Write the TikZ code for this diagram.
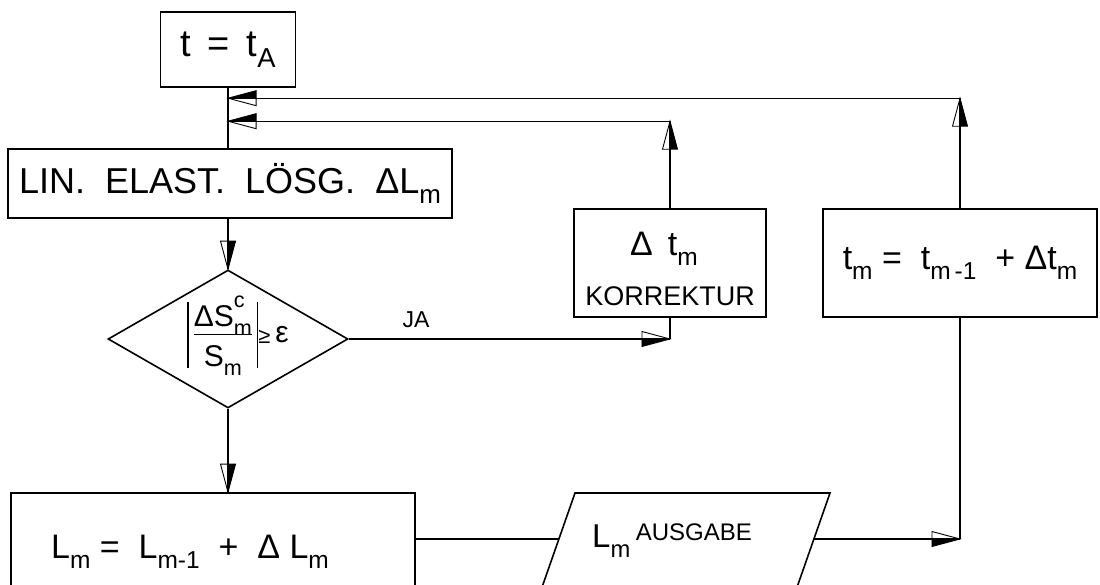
\documentclass[tikz,border=0pt]{standalone}
\usepackage{fontspec}
\setmainfont{Liberation Sans}
\usepackage{graphicx}
\usetikzlibrary{shapes.geometric,decorations.markings}
\newcommand\fs[1]{\fontsize{#1}{#1}\selectfont}
\newcommand\Sb[1]{\raisebox{-0.3em}{\scalebox{0.72}{#1}}}
\newcommand\SupSub[2]{\rlap{\raisebox{0.62em}{\scalebox{0.72}{#1}}}\raisebox{-0.3em}{\scalebox{0.72}{#2}}}
\tikzset{
  box/.style={draw, line width=1.6pt, inner sep=0pt},
  conn/.style={line width=1.1pt},
  ahR/.style={postaction={decorate,decoration={markings,mark=at position 0.9999 with {\fill (0pt,0pt)--(-28pt,0pt)--(-28pt,-7.5pt)--cycle; \draw[line width=0.9pt,line join=miter] (0pt,0pt)--(-28pt,7.5pt)--(-28pt,-7.5pt)--cycle;}}}},
  ahL/.style={postaction={decorate,decoration={markings,mark=at position 0.9999 with {\fill (0pt,0pt)--(-28pt,0pt)--(-28pt,7.5pt)--cycle; \draw[line width=0.9pt,line join=miter] (0pt,0pt)--(-28pt,7.5pt)--(-28pt,-7.5pt)--cycle;}}}}
}
\begin{document}
\begin{tikzpicture}[x=1pt,y=-1pt]
\useasboundingbox (0,0) rectangle (1100,585);
\clip (0,0) rectangle (1100,585);
\fill[white] (0,0) rectangle (1100,585);
% nodes
\node[box, minimum width=135pt, minimum height=75pt] (tA) at (228,49.5) {\fs{38}t \,=\, t\Sb{A}};
\node[box, minimum width=444pt, minimum height=69pt] (LIN) at (230,183.5) {\fs{36}LIN.\ \ ELAST.\ \ LÖSG.\ \ ΔL\Sb{m}};
\node[diamond, draw, line width=1.6pt, minimum width=240pt, minimum height=138pt, inner sep=0pt] (dia) at (228,339) {};
\node (fr) at (238,336) {\fs{30}\rule[-0.85em]{1.5pt}{2.2em}\,{\setlength\arrayrulewidth{1.4pt}\begin{tabular}{@{}c@{}}ΔS\SupSub{c}{m}\\[-0.05em]\hline\rule{0pt}{1.05em}S\Sb{m}\end{tabular}}\,\rule[-0.85em]{1.5pt}{2.2em}\raisebox{-0.05em}{\fs{22}≥}\,ε};
\node[box, minimum width=192pt, minimum height=108pt] (dt) at (670,263) {};
\node (dtA) at (664,249) {\fs{34}Δ \,t\Sb{m}};
\node (dtB) at (670,296) {\fs{27}KORREKTUR};
\node[box, minimum width=274pt, minimum height=108pt] (tm) at (960,263) {\fs{34}t\Sb{m} = \ t\Sb{m\,-1} \ + Δt\Sb{m}};
\node[box, minimum width=404pt, minimum height=107pt] (Lm) at (213,546.5) {};
\node (LmT) at (190,552) {\fs{34}L\Sb{m} = \ L\Sb{m-1} \ + \ Δ L\Sb{m}};
\draw[line width=1.6pt] (575,493) -- (830,493) -- (788,613) -- (533,613) -- cycle;
\coordinate (pL) at (558.9,539);
\coordinate (pR) at (813.9,539);
\node (out) at (672,541) {\fs{33}L\Sb{m}\,\raisebox{7pt}{\fs{24}AUSGABE}};
\node (ja) at (416,320) {\fs{23}JA};
% helper coordinates
\path (dt.north) ++(0,-87) coordinate (c1);
\path (tm.north) ++(0,-110) coordinate (c2);
\coordinate (j1) at (dt.south |- dia.east);
\coordinate (c3) at (tm.south |- pR);
% connectors
\draw[conn] (tA.south) -- (tA.south |- LIN.north);
\draw[conn, ahR] (dt.north) -- (c1);
\draw[conn, ahR] (c1) -- (c1 -| tA.south);
\draw[conn, ahR] (tm.north) -- (c2);
\draw[conn, ahR] (c2) -- (c2 -| tA.south);
\draw[conn, ahL] (tA.south |- LIN.south) -- (dia.north);
\draw[conn, ahL] (dia.south) -- (dia.south |- Lm.north);
\draw[conn, ahR] (dia.east) -- (j1);
\draw[conn] (j1) -- (dt.south);
\draw[conn] (Lm.east |- pL) -- (pL);
\draw[conn, ahR] (pR) -- (c3);
\draw[conn] (c3) -- (tm.south);
\end{tikzpicture}
\end{document}
